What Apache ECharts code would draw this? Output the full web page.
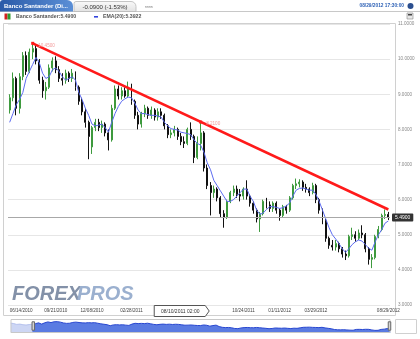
<!DOCTYPE html>
<html><head><meta charset="utf-8">
<script src="https://cdn.jsdelivr.net/npm/echarts@6/dist/echarts.min.js"></script>
<style>html,body{margin:0;padding:0;background:#fff}#c{width:420px;height:339px}</style>
</head><body><div id="c"></div>
<script>
// weekly categories (Mondays); first 7 weeks only appear in the navigator
const categories = [
'04/26/2010','05/03/2010','05/10/2010','05/17/2010','05/24/2010','05/31/2010','06/07/2010',
'06/14/2010','06/21/2010','06/28/2010','07/05/2010','07/12/2010','07/19/2010','07/26/2010','08/02/2010','08/09/2010','08/16/2010','08/23/2010','08/30/2010','09/06/2010','09/13/2010','09/20/2010','09/27/2010','10/04/2010','10/11/2010','10/18/2010','10/25/2010','11/01/2010','11/08/2010','11/15/2010','11/22/2010','11/29/2010','12/06/2010','12/13/2010','12/20/2010','12/27/2010',
'01/03/2011','01/10/2011','01/17/2011','01/24/2011','01/31/2011','02/07/2011','02/14/2011','02/21/2011','02/28/2011','03/07/2011','03/14/2011','03/21/2011','03/28/2011','04/04/2011','04/11/2011','04/18/2011','04/25/2011','05/02/2011','05/09/2011','05/16/2011','05/23/2011','05/30/2011','06/06/2011','06/13/2011','06/20/2011','06/27/2011','07/04/2011','07/11/2011','07/18/2011','07/25/2011','08/01/2011','08/08/2011','08/15/2011','08/22/2011','08/29/2011','09/05/2011','09/12/2011','09/19/2011','09/26/2011','10/03/2011','10/10/2011','10/17/2011','10/24/2011','10/31/2011','11/07/2011','11/14/2011','11/21/2011','11/28/2011','12/05/2011','12/12/2011','12/19/2011','12/26/2011',
'01/02/2012','01/09/2012','01/16/2012','01/23/2012','01/30/2012','02/06/2012','02/13/2012','02/20/2012','02/27/2012','03/05/2012','03/12/2012','03/19/2012','03/26/2012','04/02/2012','04/09/2012','04/16/2012','04/23/2012','04/30/2012','05/07/2012','05/14/2012','05/21/2012','05/28/2012','06/04/2012','06/11/2012','06/18/2012','06/25/2012','07/02/2012','07/09/2012','07/16/2012','07/23/2012','07/30/2012','08/06/2012','08/13/2012','08/20/2012','08/27/2012'
];
const preWeeks = 7;
// [open, close, low, high]
const ohlc = [
[9.3,9.0,8.9,9.5],[9.0,8.4,8.2,9.1],[8.4,8.6,8.1,8.9],[8.6,8.2,8.0,8.7],[8.2,8.0,7.8,8.3],[8.0,8.3,7.9,8.4],[8.3,8.55,8.1,8.6],
[8.55,8.9,8.45,9.0],[8.9,9.45,8.8,9.62],[9.45,8.6,8.4,9.5],[8.6,9.5,8.45,9.6],[9.5,10.1,9.4,10.2],[10.1,9.65,9.55,10.22],[9.65,10.2,9.6,10.3],[10.2,10.3,10.0,10.47],
[10.3,9.95,9.85,10.4],[9.95,9.4,9.3,10.0],[9.4,9.1,8.9,9.5],[9.1,9.2,8.85,9.35],[9.2,9.75,9.15,9.85],[9.75,9.95,9.65,10.05],[9.95,9.7,9.6,10.08],[9.7,9.45,9.35,9.8],
[9.45,9.4,9.25,9.6],[9.4,9.6,9.3,9.7],[9.6,9.45,9.35,9.65],[9.45,9.6,9.35,9.72],[9.6,9.2,9.1,9.65],[9.2,8.8,8.7,9.25],[8.8,8.5,8.4,8.9],[8.5,8.2,8.05,8.6],
[8.2,7.8,7.15,8.25],[7.5,8.05,7.3,8.1],[8.05,8.2,7.95,8.3],[8.2,8.05,7.95,8.3],[8.05,8.15,7.9,8.25],[8.15,7.9,7.8,8.2],[7.9,7.7,7.4,8.0],[7.7,8.6,7.65,8.7],
[8.6,9.15,8.55,9.25],[9.15,8.95,8.85,9.25],[8.95,9.1,8.85,9.2],[9.1,8.95,8.9,9.2],[8.95,9.2,8.9,9.36],[9.2,8.8,8.7,9.3],[8.8,8.4,8.3,8.85],[8.4,8.15,8.0,8.5],
[8.15,8.45,8.05,8.5],[8.45,8.6,8.35,8.7],[8.6,8.4,8.3,8.65],[8.4,8.55,8.3,8.65],[8.55,8.35,8.25,8.6],[8.35,8.5,8.25,8.6],[8.5,8.4,8.3,8.6],[8.4,8.1,8.0,8.45],
[8.1,7.85,7.75,8.15],[7.85,7.9,7.75,8.0],[7.9,8.0,7.8,8.1],[8.0,7.8,7.7,8.05],[7.8,7.65,7.55,7.9],[7.65,7.6,7.47,7.8],[7.6,8.0,7.55,8.05],[8.0,7.8,7.7,8.2],
[7.8,7.2,7.04,7.85],[7.2,7.6,7.15,7.8],[7.6,7.9,7.4,8.2],[7.9,6.9,6.8,7.95],[6.9,6.4,6.3,7.0],[6.4,6.2,5.55,6.5],[6.2,6.3,6.05,6.4],[6.3,6.05,5.95,6.35],
[6.05,5.6,5.5,6.1],[5.6,5.5,5.2,5.7],[5.5,5.95,5.45,6.0],[5.95,6.2,5.9,6.25],[6.2,6.3,6.1,6.4],[6.3,6.15,6.05,6.4],[6.15,6.1,5.95,6.3],[6.1,6.3,6.0,6.35],
[6.3,6.1,6.0,6.55],[6.1,5.9,5.8,6.15],[5.9,5.7,5.6,5.95],[5.7,5.45,5.35,5.75],[5.45,5.6,5.08,5.65],[5.6,5.95,5.55,6.0],[5.95,5.85,5.75,6.05],[5.85,5.75,5.65,5.95],
[5.75,5.9,5.65,5.95],[5.9,5.7,5.6,5.95],[5.7,5.55,5.4,5.75],[5.55,5.8,5.5,5.85],[5.8,5.7,5.6,5.85],[5.7,6.05,5.65,6.1],[6.05,6.4,6.0,6.45],[6.4,6.45,6.3,6.6],
[6.45,6.5,6.35,6.58],[6.5,6.35,6.25,6.55],[6.35,6.3,6.2,6.45],[6.3,6.2,6.1,6.35],[6.2,6.4,6.15,6.48],[6.4,6.0,5.9,6.45],[6.0,5.7,5.6,6.05],[5.7,5.4,5.3,5.75],
[5.4,4.9,4.8,5.45],[4.9,4.7,4.6,4.95],[4.7,4.65,4.55,4.85],[4.65,4.75,4.55,4.85],[4.75,4.6,4.5,4.8],[4.6,4.45,4.35,4.65],[4.45,4.4,4.28,4.55],[4.4,4.95,4.35,5.0],
[4.95,5.0,4.85,5.2],[5.0,4.9,4.8,5.1],[4.9,5.05,4.85,5.15],[5.05,5.0,4.9,5.27],[5.0,4.6,4.5,5.05],[4.6,4.3,4.15,4.65],[4.3,4.35,4.05,4.45],[4.35,4.95,4.3,5.0],
[4.95,5.15,4.9,5.25],[5.15,5.55,5.1,5.6],[5.55,5.58,5.45,5.72],[5.58,5.49,5.42,5.65]
];
const ema20 = [
null,null,null,null,null,null,null,
8.2,8.45,8.7,8.85,9.05,9.45,9.65,9.85,10.05,9.9,9.6,9.45,9.5,9.7,9.75,9.65,9.5,9.4,9.45,9.5,9.4,9.05,8.85,8.6,
8.4,8.15,8.1,8.12,8.15,8.05,7.92,8.2,8.45,8.65,8.8,8.87,8.92,8.9,8.75,8.55,8.45,8.45,8.42,8.4,8.4,8.38,8.35,8.2,
8.1,8.02,8.0,7.98,7.92,7.9,7.88,7.85,7.7,7.6,7.55,7.35,7.05,6.85,6.55,6.4,6.25,6.1,5.95,5.95,6.0,6.1,6.2,6.3,
6.3,6.1,5.95,5.7,5.58,5.62,5.72,5.8,5.8,5.78,5.75,5.77,5.82,5.9,6.1,6.27,6.32,6.33,6.3,6.27,6.27,6.15,5.95,5.7,
5.45,5.2,5.0,4.88,4.75,4.6,4.5,4.6,4.72,4.8,4.85,4.82,4.72,4.62,4.56,4.8,5.0,5.15,5.33,5.3922
];
const tickWeeks  = ['06/14/2010','09/20/2010','12/06/2010','02/28/2011','10/24/2011','01/09/2012','03/26/2012','08/27/2012'];
const tickLabels = ['06/14/2010','09/21/2010','12/08/2010','02/28/2011','10/24/2011','01/11/2012','03/29/2012','08/29/2012'];
const trendLine = [['08/02/2010',10.45],['08/27/2012',5.72]];
const trendAnchors = [['08/02/2010',10.45,'10.4500'],['07/25/2011',8.21,'8.2100']];
const hoverWeek = '08/08/2011';
const hoverLabel = '08/10/2011 02:00';
const seriesName = 'Banco Santander';
const headerTab = 'Banco Santander (Di...';
const headerChange = '-0.0900 (-1.53%)';
const headerTime = '08/29/2012 17:30:00';

const lastClose = ohlc[ohlc.length-1][1];
const lastEma = ema20[ema20.length-1];
const F = 'Liberation Sans';

const chart = echarts.init(document.getElementById('c'));
chart.setOption({
  animation: false,
  textStyle: {fontFamily: F},
  grid: {left: 8, right: 30, top: 24, bottom: 34, show: false, outerBoundsMode: 'none'},
  xAxis: {
    type: 'category', data: categories, boundaryGap: true,
    axisLine: {show: false}, axisTick: {show: false}, splitLine: {show: false},
    axisLabel: {
      interval: (i, v) => tickWeeks.includes(v),
      formatter: v => { const k = tickWeeks.indexOf(v); return k < 0 ? '' : tickLabels[k]; },
      fontSize: 4.6, color: '#444', margin: 3, fontFamily: F, alignMinLabel: 'left'
    }
  },
  yAxis: {
    type: 'value', position: 'right', min: 3, max: 11, interval: 1, scale: true,
    axisLine: {show: false}, axisTick: {show: false},
    splitLine: {lineStyle: {color: '#e6e6e6', width: 1}},
    axisLabel: {formatter: v => v.toFixed(4), fontSize: 4.6, color: '#888', margin: 8, fontFamily: F}
  },
  dataZoom: [{
    type: 'slider', xAxisIndex: 0, filterMode: 'filter',
    startValue: categories[preWeeks], endValue: categories[categories.length-1],
    left: 8, right: 32, top: 319, height: 14,
    showDetail: false, brushSelect: false, moveHandleSize: 0, zoomLock: true,
    backgroundColor: '#fff', borderColor: '#c8c8c8', borderRadius: 0,
    fillerColor: 'rgba(0,0,0,0)',
    dataBackground: {lineStyle: {color: '#a9b8ea', width: 0.8}, areaStyle: {color: '#cdd6f4', opacity: 1}},
    selectedDataBackground: {lineStyle: {color: '#2847d0', width: 1}, areaStyle: {color: '#5a7be2', opacity: 1}},
    handleIcon: 'path://M0,0H6V20H0Z', handleSize: '60%',
    handleStyle: {color: '#d4d4d4', borderColor: '#666', borderWidth: 1},
    moveHandleStyle: {opacity: 0}
  }],
  series: [
    {
      name: seriesName, type: 'candlestick', data: ohlc, barWidth: '45%',
      itemStyle: {color: '#63b863', color0: '#111', borderColor: '#3e9a3e', borderColor0: '#111', borderWidth: 1},
      markLine: {
        symbol: ['none', 'none'], silent: true,
        data: [
          [{coord: trendLine[0], lineStyle: {color: '#ff1a1a', width: 2.6, type: 'solid'}, label: {show: false}},
           {coord: trendLine[1]}],
          {yAxis: lastClose, lineStyle: {color: '#a8a8a8', width: 1, type: 'solid'},
           label: {show: true, position: 'end', distance: 2, formatter: lastClose.toFixed(4),
                   backgroundColor: '#333', color: '#fff', padding: [2, 3, 1, 3], fontSize: 5, borderRadius: 1, fontFamily: F}}
        ]
      },
      markPoint: {
        symbol: 'rect', symbolSize: 3, silent: true,
        itemStyle: {color: '#ff1a1a'},
        label: {show: true, position: 'right', distance: 4, color: '#f29a9a', fontSize: 4.6, fontFamily: F, formatter: p => p.value, offset: [0, 2]},
        data: trendAnchors.map(a => ({coord: [a[0], a[1]], value: a[2]}))
      }
    },
    {
      name: 'EMA(20)', type: 'line', data: ema20, symbol: 'none', z: 3,
      lineStyle: {color: '#5d6cf0', width: 1}, connectNulls: false
    }
  ]
});

// decorations: header, legend, frame, crosshair label, logo
const hp = chart.convertToPixel({xAxisIndex: 0}, hoverWeek);
const tipX = hp + 2;
chart.setOption({
  graphic: [
    {type: 'rect', z: 0, shape: {x: 3.5, y: 23.5, width: 392, height: 292}, style: {fill: 'none', stroke: '#d0d0d0', lineWidth: 1}},
    {type: 'line', z: 0, shape: {x1: 0, y1: 11.5, x2: 420, y2: 11.5}, style: {stroke: '#c8c8c8', lineWidth: 1}},
    {type: 'rect', z: 10, shape: {x: 0, y: 0, width: 73, height: 11.5, r: [3, 6, 0, 0]},
      style: {fill: new echarts.graphic.LinearGradient(0, 0, 1, 0, [{offset: 0, color: '#2a5aa8'}, {offset: 1, color: '#5b8fd6'}])}},
    {type: 'text', z: 11, style: {x: 4, y: 6, text: headerTab, fill: '#fff', font: 'bold 6px ' + F, verticalAlign: 'middle'}},
    {type: 'rect', z: 10, shape: {x: 74, y: 1.5, width: 62, height: 10, r: [2, 5, 0, 0]},
      style: {fill: new echarts.graphic.LinearGradient(0, 0, 0, 1, [{offset: 0, color: '#fafafa'}, {offset: 1, color: '#e2e2e2'}]), stroke: '#b8b8b8', lineWidth: 0.8}},
    {type: 'text', z: 11, style: {x: 105, y: 7, text: headerChange, fill: '#333', font: '6px ' + F, align: 'center', verticalAlign: 'middle'}},
    {type: 'text', z: 11, style: {x: 145, y: 7.5, text: 'nnnn', fill: '#777', font: '3.5px ' + F, verticalAlign: 'middle'}},
    {type: 'text', z: 11, style: {x: 404, y: 6, text: headerTime, fill: '#2f62b6', font: 'bold 4.8px ' + F, align: 'right', verticalAlign: 'middle'}},
    {type: 'circle', z: 11, shape: {cx: 410.5, cy: 6, r: 3}, style: {fill: '#2b4f8f'}},
    {type: 'rect', z: 11, shape: {x: 407, y: 13, width: 6, height: 6}, style: {fill: '#e8e8e8', stroke: '#888', lineWidth: 0.6}},
    {type: 'rect', z: 11, shape: {x: 408, y: 14, width: 4, height: 1.5}, style: {fill: '#444'}},
    // legend
    {type: 'rect', z: 11, shape: {x: 4.5, y: 13.5, width: 3, height: 6}, style: {fill: '#d42020'}},
    {type: 'rect', z: 11, shape: {x: 7.5, y: 13.5, width: 3, height: 6}, style: {fill: '#2f9a2f'}},
    {type: 'text', z: 11, style: {x: 16, y: 17, text: seriesName + ':' + lastClose.toFixed(4), fill: '#555', font: 'bold 5.2px ' + F, verticalAlign: 'middle'}},
    {type: 'rect', z: 11, shape: {x: 94, y: 16, width: 4, height: 1.6}, style: {fill: '#3344dd'}},
    {type: 'text', z: 11, style: {x: 103, y: 17, text: 'EMA(20):' + lastEma.toFixed(4), fill: '#555', font: 'bold 5.2px ' + F, verticalAlign: 'middle'}},
    // navigator side box
    {type: 'rect', z: 0, shape: {x: 395.5, y: 319.5, width: 21, height: 14}, style: {fill: '#fff', stroke: '#d0d0d0', lineWidth: 1}},
    // crosshair label
    {type: 'polygon', z: 20, shape: {points: [[tipX - 55, 305.5], [tipX - 4, 305.5], [tipX, 311], [tipX - 4, 316.5], [tipX - 55, 316.5]]},
      style: {fill: '#fff', stroke: '#555', lineWidth: 1}},
    {type: 'text', z: 21, style: {x: tipX - 29, y: 311.3, text: hoverLabel, fill: '#333', font: '5px ' + F, align: 'center', verticalAlign: 'middle'}},
    // logo
    {type: 'text', z: 5, style: {x: 12, y: 294, text: 'FOREX', fill: '#8391a8', font: 'italic bold 20px ' + F, verticalAlign: 'middle'}},
    {type: 'text', z: 5, style: {x: 77, y: 294, text: 'PROS', fill: '#9bb0cf', font: 'italic bold 20px ' + F, verticalAlign: 'middle'}}
  ]
});
</script></body></html>
